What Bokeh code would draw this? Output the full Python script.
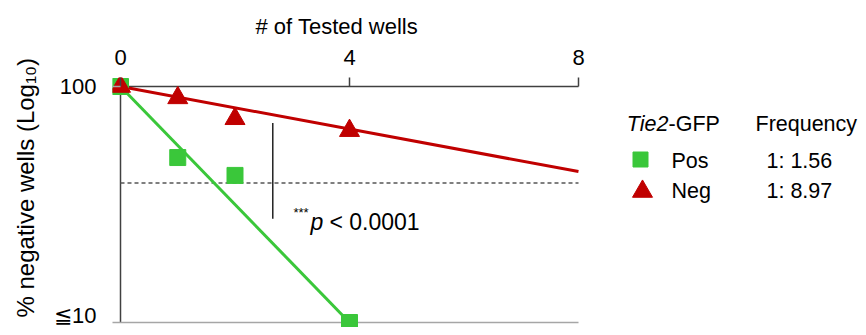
from bokeh.plotting import figure
from bokeh.models import Range1d, FixedTicker, Label, Title
from bokeh.embed import file_html
from bokeh.resources import INLINE
from bokeh.core.properties import value

# ---------------- data ----------------
wells = [0, 1, 2, 4]                      # number of tested wells
pos_pct = [100, 50, 42, 10]               # Tie2-GFP Pos, % negative wells
neg_pct = [100, 89.5, 73, 65]             # Tie2-GFP Neg, % negative wells
pos_fit_x = [0, 4]
pos_fit_y = [100, 10]
neg_fit_x = [0, 8]
neg_fit_y = [100, 43.6]
threshold_pct = 39                        # dashed reference level
sig_x = 2.66                              # significance bar position
sig_y = [27.5, 70]
x_ticks = [0, 4, 8]
x_lim = [0, 8]
y_ticks = [10, 100]
y_lim = [10, 100]
y_tick_labels = {10: "≦10", 100: "100"}
groups = ["Pos", "Neg"]
frequencies = ["1: 1.56", "1: 8.97"]
x_title = "# of Tested wells"
y_title = "% negative wells (Log₁₀)"
legend_title_italic = "Tie2"
legend_title_rest = "-GFP"
freq_title = "Frequency"

# ---------------- style / layout ----------------
FONT = "Liberation Sans"
GREEN = "#3AC73A"
RED = "#C00000"
AXIS = "#404040"
LIGHT = "#A6A6A6"

W, H = 858, 327
PX_PER_WELL = 57.25
PX_PER_DECADE = 236.0
pad_l, pad_t, pad_b = 8, 9, 5
border_l, border_t = 112, 77
frame_w = W - border_l
frame_h = H - border_t

x0 = -pad_l / PX_PER_WELL
x_range = Range1d(x0, x0 + frame_w / PX_PER_WELL)
y_hi = 100 * 10 ** (pad_t / PX_PER_DECADE)
y_lo = 10 / 10 ** (pad_b / PX_PER_DECADE)
y_range = Range1d(y_lo, y_hi)

p = figure(width=W, height=H, x_range=x_range, y_range=y_range,
           y_axis_type="log", x_axis_location="above",
           output_backend="svg", toolbar_location=None,
           min_border_left=border_l, min_border_right=0,
           min_border_top=border_t, min_border_bottom=0)
p.outline_line_color = None
p.grid.visible = False

xa = p.xaxis[0]
xa.ticker = FixedTicker(ticks=x_ticks)
xa.axis_line_color = None
xa.minor_tick_line_color = None
xa.major_tick_out = 0
xa.major_tick_in = pad_t
xa.major_tick_line_color = AXIS
xa.major_tick_line_width = 1.5
xa.major_label_text_font = FONT
xa.major_label_text_font_size = "22px"
xa.major_label_text_color = "black"
xa.major_label_standoff = 13

ya = p.yaxis[0]
ya.ticker = FixedTicker(ticks=y_ticks)
ya.major_label_overrides = y_tick_labels
ya.axis_line_color = None
ya.minor_tick_line_color = None
ya.major_tick_out = 0
ya.major_tick_in = pad_l
ya.major_tick_line_color = LIGHT
ya.major_tick_line_width = 1.5
ya.major_label_text_font = FONT
ya.major_label_text_font_size = "22px"
ya.major_label_text_color = "black"
ya.major_label_standoff = 16

# x-axis title as a side title above the tick labels
p.add_layout(Title(text=x_title, align="left", offset=143, text_font=FONT,
                   text_font_size="22px", text_font_style="normal",
                   text_color="black", vertical_align="top", standoff=11), "above")

# y-axis title as a rotated side title, starting near the frame bottom
p.add_layout(Title(text=y_title, align="left", offset=10, text_font=FONT,
                   text_font_size="24px", text_font_style="normal",
                   text_color="black", vertical_align="top", standoff=21), "left")

# axis lines (drawn at the data limits)
p.line(x_lim, [y_lim[1], y_lim[1]], line_color=AXIS, line_width=1.5)
p.line([x_lim[0], x_lim[0]], y_lim, line_color=AXIS, line_width=1.5)
p.line(x_lim, [y_lim[0], y_lim[0]], line_color=LIGHT, line_width=1.5)

# reference dashed level and significance bar
p.line(x_lim, [threshold_pct, threshold_pct], line_color="#555555", line_width=1.3, line_dash="4 3")
p.line([sig_x, sig_x], sig_y, line_color="#222222", line_width=1.5)

# fits
p.line(neg_fit_x, neg_fit_y, line_color=RED, line_width=3)
p.line(pos_fit_x, pos_fit_y, line_color=GREEN, line_width=3)

# observed points
p.scatter(wells, pos_pct, marker="square", size=16, fill_color=GREEN, line_color=GREEN)
p.scatter(wells, neg_pct, marker="triangle", size=20, fill_color=RED, line_color=RED)

# p-value annotation
ax, ay = 3.02, 26.6
p.text(x=[ax], y=[ay], text=["***"], text_font=value(FONT), text_font_size="13px",
       text_baseline="middle", text_align="left", y_offset=-10, text_color="black")
p.text(x=[ax], y=[ay], text=["p"], text_font=value(FONT), text_font_size="23px",
       text_font_style="italic", text_baseline="middle", text_align="left", x_offset=17,
       text_color="black")
p.text(x=[ax], y=[ay], text=["< 0.0001"], text_font=value(FONT), text_font_size="23px",
       text_baseline="middle", text_align="left", x_offset=36, text_color="black")

# ---------------- legend (screen units, from frame bottom-left) ----------------
def lab(text, px, py, size="22px", style="normal", align="left"):
    p.add_layout(Label(x=px - border_l, y=H - py, x_units="screen", y_units="screen",
                       text=text, text_font=FONT, text_font_size=size,
                       text_font_style=style, text_align=align,
                       text_baseline="middle", text_color="black"))

LFS = "21.5px"
lab(legend_title_italic, 668, 123, size=LFS, style="italic", align="right")
lab(legend_title_rest, 668, 123, size=LFS, align="left")
lab(freq_title, 755, 123, size=LFS)
row_py = [160, 190]
for g, f, py in zip(groups, frequencies, row_py):
    lab(g, 671, py, size=LFS)
    lab(f, 766, py, size=LFS)

# legend markers, placed in data space from pixel positions
def px_to_x(px):
    return (px - 120) / PX_PER_WELL

def py_to_y(py):
    return 10 ** (2 - (py - 86) / PX_PER_DECADE)

p.scatter([px_to_x(640)], [py_to_y(159)], marker="square", size=15,
          fill_color=GREEN, line_color=GREEN)
p.scatter([px_to_x(642)], [py_to_y(191)], marker="triangle", size=20,
          fill_color=RED, line_color=RED)

open("out.html", "w").write(file_html(p, INLINE))
